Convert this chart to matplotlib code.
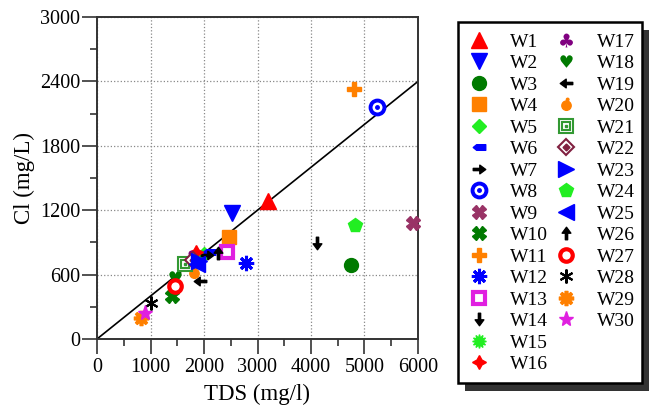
import numpy as np
import matplotlib
matplotlib.use("Agg")
import matplotlib.pyplot as plt
from matplotlib.lines import Line2D
from matplotlib.path import Path
from matplotlib.patches import Rectangle
from matplotlib.legend_handler import HandlerTuple

plt.rcParams['font.family'] = 'serif'
plt.rcParams['font.serif'] = ['Liberation Serif', 'DejaVu Serif']

# data
wells = ['W%d' % i for i in range(1, 31)]
tds = [3200, 2530, 4750, 2470, 2000, 2100, 2050, 5230, 5900, 1400,
       4800, 2790, 2430, 4110, 1750, 1850, 1750, 1460, 1920, 1820,
       1640, 1800, 1900, 4820, 1870, 2260, 1460, 1010, 830, 900]
cl = [1290, 1170, 690, 950, 790, 810, 780, 2160, 1080, 400,
      2330, 710, 810, 890, 720, 810, 760, 580, 540, 620,
      700, 740, 730, 1060, 700, 800, 490, 340, 200, 240]
line_x = [0, 6000]
line_y = [0, 2400]


def arrow(angle):
    v = np.array([(-1, 0.18), (0.05, 0.18), (0.05, 0.7), (1, 0),
                  (0.05, -0.7), (0.05, -0.18), (-1, -0.18), (-1, 0.18)])
    a = np.deg2rad(angle)
    r = np.array([[np.cos(a), -np.sin(a)], [np.sin(a), np.cos(a)]])
    return Path(v @ r.T, closed=True)


tag = Path([(-1, 0), (-0.45, 0.45), (1, 0.45), (1, -0.45), (-0.45, -0.45), (-1, 0)],
           closed=True)
apple = Path.make_compound_path(
    Path.circle((0, -0.2), 0.8),
    Path.circle((0.2, 0.85), 0.22))

RED, BLUE, DKG, ORG, LIME = '#ff0000', '#0000ff', '#007a00', '#ff8000', '#22ee22'
MAG, PUR, MAR = '#e020e0', '#800080', '#993366'


def m(marker, color, ms=10, mfc=None, mew=1, mec=None):
    return dict(marker=marker, color=color, ms=ms,
                mfc=color if mfc is None else mfc,
                mec=color if mec is None else mec, mew=mew)


styles = [
    [m('^', RED, 11)],
    [m('v', BLUE, 11)],
    [m('o', DKG, 10)],
    [m('s', ORG, 10)],
    [m('D', LIME, 7)],
    [m(tag, BLUE, 9)],
    [m(arrow(0), 'black', 9)],
    [m('o', BLUE, 10, mfc='white', mew=2.8), m('o', BLUE, 2.5)],
    [m('X', MAR, 10)],
    [m('X', DKG, 10)],
    [m('P', ORG, 10)],
    [m((8, 2, 0), BLUE, 11, mew=2.2)],
    [m('s', MAG, 9, mfc='white', mew=3)],
    [m(arrow(-90), 'black', 9)],
    [m((12, 1, 0), LIME, 10)],
    [m((4, 1, 0), RED, 10)],
    [m('$\u2663$', PUR, 10, mew=0)],
    [m('$\u2665$', DKG, 9, mew=0)],
    [m(arrow(180), 'black', 9)],
    [m(apple, ORG, 9)],
    [m('s', '#339933', 10, mfc='white', mew=1.5), m('s', '#339933', 5.5, mfc='white', mew=1.5),
     m('s', '#339933', 2)],
    [m('D', '#802040', 8, mfc='white', mew=1.5), m('D', '#802040', 3.5)],
    [m('>', BLUE, 11)],
    [m('p', LIME, 10)],
    [m('<', BLUE, 11)],
    [m(arrow(90), 'black', 9)],
    [m('o', RED, 9, mfc='white', mew=3)],
    [m((6, 2, 0), 'black', 10, mew=1.5)],
    [m((8, 2, 0), ORG, 11, mew=2.6)],
    [m('*', MAG, 11)],
]

fig = plt.figure(figsize=(6.58, 4.09), dpi=100)
ax = fig.add_axes([97 / 658, 1 - 339 / 409, 321 / 658, 322 / 409])

ax.plot(line_x, line_y, color='black', lw=1.2, zorder=2)

handles = []
for i in range(len(wells)):
    layers = []
    for st in styles[i]:
        ax.plot([tds[i]], [cl[i]], linestyle='none', zorder=3, clip_on=False, **st)
        layers.append(Line2D([], [], linestyle='none', **st))
    handles.append(tuple(layers) if len(layers) > 1 else layers[0])

ax.set_xlim(0, 6000)
ax.set_ylim(0, 3000)
ax.set_xticks(np.arange(0, 6001, 1000))
ax.set_xticks(np.arange(0, 6001, 500), minor=True)
ax.set_yticks(np.arange(0, 3001, 600))
ax.set_yticks(np.arange(0, 3001, 300), minor=True)
ax.tick_params(which='major', direction='out', length=10.5, width=1.2,
               labelsize=14.5, color='#333333')
ax.tick_params(which='minor', direction='out', length=5, width=1.2, color='#333333')
ax.tick_params(axis='x', which='major', pad=3)
ax.tick_params(axis='y', which='major', pad=1.5)
ax.grid(True, which='major', linestyle=':', color='#888888', lw=0.9)
for s in ax.spines.values():
    s.set_linewidth(1.4)
    s.set_color('#333333')
ax.set_xlabel('TDS (mg/l)', fontsize=16.5, labelpad=5)
ax.set_ylabel('Cl (mg/L)', fontsize=16.5, labelpad=4)

# legend box with shadow
fig.patches.append(Rectangle((465 / 658, 1 - 391 / 409), 184 / 658, 361 / 409,
                             transform=fig.transFigure, facecolor='#333333',
                             edgecolor='none', zorder=0))
fig.patches.append(Rectangle((458 / 658, 1 - 383 / 409), 184 / 658, 361 / 409,
                             transform=fig.transFigure, facecolor='white',
                             edgecolor='black', lw=1.8, zorder=1))

blank = Line2D([], [], linestyle='none')
leg_h = handles + [blank, blank]
leg_l = wells + ['', '']
fig.legend(leg_h, leg_l, ncol=2, loc='upper left', frameon=False,
           bbox_to_anchor=(463 / 658, 1 - 33 / 409), fontsize=14,
           labelspacing=0.2, handlelength=1.6, handletextpad=0.8,
           columnspacing=0.15, borderpad=0, borderaxespad=0,
           handler_map={tuple: HandlerTuple(ndivide=1, pad=0)})

fig.savefig('out.png', dpi=100)
